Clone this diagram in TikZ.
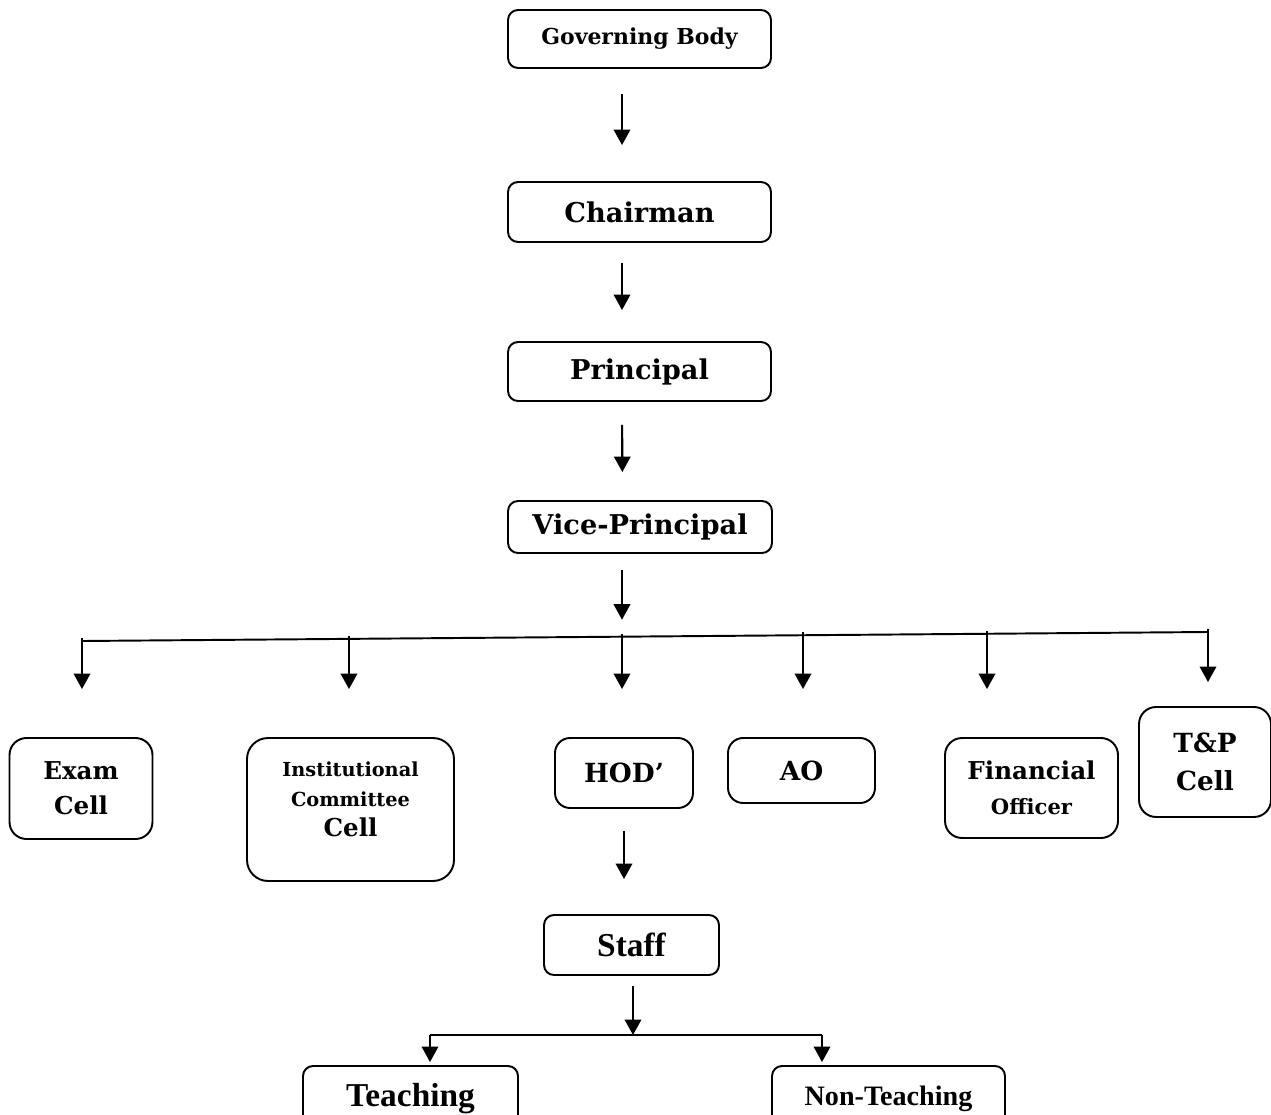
\documentclass[tikz,border=0pt]{standalone}
\usepackage{fontspec}
\setmainfont{DejaVu Serif}
\newfontfamily\narrowserif{Liberation Serif}
\usetikzlibrary{arrows.meta}

\begin{document}
\begin{tikzpicture}[x=0.02cm,y=-0.02cm,
  box/.style={draw,line width=1.1pt,rounded corners=0.2cm,inner sep=0pt,align=center},
  cellbox/.style={box,rounded corners=0.34cm},
  flow/.style={line width=1.2pt,-{Triangle[width=0.33cm,length=0.31cm]}},
  bus/.style={line width=1.1pt}]
 \useasboundingbox (0,0) rectangle (1271,1115);
 \clip (0,0) rectangle (1271,1115);
 % top chain
 \node[box,minimum width=5.26cm,minimum height=1.16cm,font=\bfseries\fontsize{12.5}{15}\selectfont] (gov) at (639.5,39) {Governing Body};
 \node[box,minimum width=5.26cm,minimum height=1.2cm,font=\bfseries\fontsize{15.5}{18}\selectfont] (chair) at (639.5,212) {Chairman};
 \node[box,minimum width=5.26cm,minimum height=1.18cm,font=\bfseries\fontsize{15.5}{18}\selectfont] (princ) at (639.5,371.5) {Principal};
 \node[box,minimum width=5.28cm,minimum height=1.04cm,font=\bfseries\fontsize{15.5}{18}\selectfont] (vp) at (640,527) {Vice-Principal};
 \draw[flow,shorten <=0.5cm,shorten >=0.72cm] ([xshift=-0.35cm]gov.south) -- ([xshift=-0.35cm]chair.north);
 \draw[flow,shorten <=0.4cm,shorten >=0.62cm] ([xshift=-0.35cm]chair.south) -- ([xshift=-0.35cm]princ.north);
 \draw[flow,shorten <=0.46cm,shorten >=0.56cm] ([xshift=-0.35cm]princ.south) -- ([xshift=-0.35cm]vp.north);
 % second level
 \node[cellbox,minimum width=2.86cm,minimum height=2.02cm,font=\bfseries\fontsize{14}{20}\selectfont] (exam) at (81,788.5) {Exam\\Cell};
 \node[box,rounded corners=0.42cm,minimum width=4.14cm,minimum height=2.86cm] (inst) at (350.5,809.5) {};
 \node[align=center,inner sep=0pt,font=\bfseries\fontsize{14}{17}\selectfont] (instlbl) at (350.5,799) {{\fontsize{11}{16.5}\selectfont Institutional}\\{\fontsize{11}{16.5}\selectfont Committee}\\Cell};
 \node[box,rounded corners=0.3cm,minimum width=2.76cm,minimum height=1.4cm,font=\bfseries\fontsize{15}{18}\selectfont] (hod) at (624,773) {HOD’};
 \node[box,rounded corners=0.3cm,minimum width=2.94cm,minimum height=1.3cm,font=\bfseries\fontsize{15}{18}\selectfont] (ao) at (801.5,770.5) {AO};
 \node[cellbox,minimum width=3.46cm,minimum height=2cm,font=\bfseries\fontsize{14}{20}\selectfont] (fin) at (1031.5,788) {Financial\\{\fontsize{12}{14}\selectfont Officer}};
 \node[cellbox,minimum width=2.64cm,minimum height=2.2cm,font=\bfseries\fontsize{15}{22}\selectfont] (tp) at (1205,762) {T\&P\\Cell};
 \coordinate (b1) at (82,641);
 \coordinate (b2) at (349,638.9);
 \coordinate (b3) at (622,636.7);
 \coordinate (b4) at (803,635.2);
 \coordinate (b5) at (987,633.8);
 \coordinate (b6) at (1208,632);
 \draw[flow,shorten <=0.32cm,shorten >=0.34cm] (vp.south -| b3) -- (b3);
 \draw[bus] (b1) -- (b6);
 \foreach \b/\n in {b1/exam,b2/inst,b3/hod,b4/ao,b5/fin}
   \draw[flow,shorten <=-0.06cm,shorten >=0.96cm] (\b) -- (\b |- \n.north);
 \draw[flow,shorten <=-0.06cm,shorten >=0.48cm] (b6) -- (b6 |- tp.north);
 % staff
 \node[box,minimum width=3.5cm,minimum height=1.2cm,font=\narrowserif\bfseries\fontsize{19}{22}\selectfont] (staff) at (631.5,945) {Staff};
 \draw[flow,shorten <=0.44cm,shorten >=0.7cm] (hod.south) -- (hod.south |- staff.north);
 \node[box,minimum width=4.3cm,minimum height=1.32cm,font=\narrowserif\bfseries\fontsize{19}{22}\selectfont] (teach) at (410.5,1099) {Teaching};
 \node[box,minimum width=4.66cm,minimum height=1.32cm,font=\narrowserif\bfseries\fontsize{16}{19}\selectfont] (nont) at (888.5,1099) {Non-Teaching};
 \coordinate (sb) at (633,1035);
 \coordinate (tl) at (430,1035);
 \coordinate (tr) at (822,1035);
 \draw[flow,shorten <=0.2cm] (staff.south -| sb) -- (sb);
 \draw[bus] (tl) -- (tr);
 \draw[flow,shorten >=0.06cm] (tl) -- (tl |- teach.north);
 \draw[flow,shorten >=0.06cm] (tr) -- (tr |- nont.north);
\end{tikzpicture}
\end{document}
